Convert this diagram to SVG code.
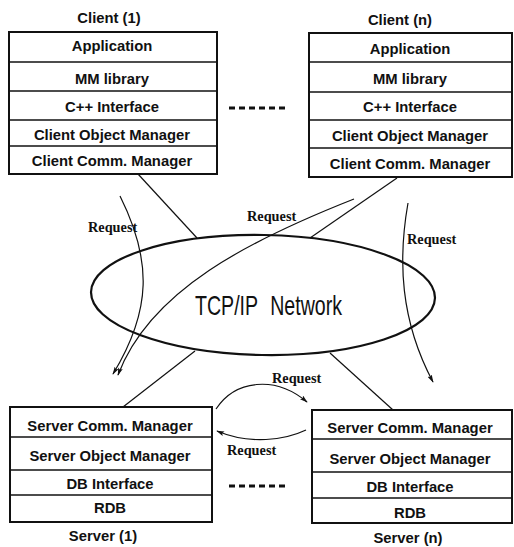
<svg xmlns="http://www.w3.org/2000/svg" width="514" height="547" viewBox="0 0 514 547">
<style>
.box{fill:#fff;stroke:#111;stroke-width:2}
.div{stroke:#111;stroke-width:1.4}
.t{font-family:"Liberation Sans",Arial,sans-serif;font-weight:bold;font-size:14.8px;text-anchor:middle;fill:#111}
.req{font-family:"Liberation Serif","Times New Roman",serif;font-weight:bold;font-size:14.3px;fill:#111}
.ln{stroke:#111;stroke-width:1.2;fill:none}
.arr{stroke:#111;stroke-width:1.2;fill:none;marker-end:url(#ah)}
.dash{stroke:#111;stroke-width:3;stroke-dasharray:6 4}
</style>
<defs>
<marker id="ah" viewBox="0 0 10 6" refX="9" refY="3" markerWidth="8" markerHeight="5" orient="auto" markerUnits="userSpaceOnUse">
<path d="M0,0 L10,3 L0,6 L2,3 z" fill="#111"/>
</marker>
</defs>
<rect width="514" height="547" fill="#fff"/>

<g id="client1">
<text class="t" x="109" y="23">Client (1)</text>
<rect class="box" x="9" y="32" width="208" height="142"/>
<line class="div" x1="9" y1="62" x2="217" y2="62"/>
<line class="div" x1="9" y1="91" x2="217" y2="91"/>
<line class="div" x1="9" y1="120" x2="217" y2="120"/>
<line class="div" x1="9" y1="146" x2="217" y2="146"/>
<text class="t" x="112" y="51">Application</text>
<text class="t" x="112" y="84">MM library</text>
<text class="t" x="112" y="112">C++ Interface</text>
<text class="t" x="112" y="140">Client Object Manager</text>
<text class="t" x="112" y="166">Client Comm. Manager</text>
</g>

<g id="clientn">
<text class="t" x="400" y="25">Client (n)</text>
<rect class="box" x="309" y="33" width="203" height="144"/>
<line class="div" x1="309" y1="62" x2="512" y2="62"/>
<line class="div" x1="309" y1="92" x2="512" y2="92"/>
<line class="div" x1="309" y1="120" x2="512" y2="120"/>
<line class="div" x1="309" y1="148" x2="512" y2="148"/>
<text class="t" x="410" y="54">Application</text>
<text class="t" x="410" y="84">MM library</text>
<text class="t" x="410" y="112">C++ Interface</text>
<text class="t" x="410" y="141">Client Object Manager</text>
<text class="t" x="410" y="169">Client Comm. Manager</text>
</g>

<g id="network">
<ellipse cx="263" cy="295" rx="172" ry="60" transform="rotate(1 263 295)" fill="#fff" stroke="#111" stroke-width="2.2"/>
<text x="195" y="315" font-family="'Liberation Sans',Arial,sans-serif" font-size="28" word-spacing="10" fill="#111" textLength="147" lengthAdjust="spacingAndGlyphs">TCP/IP Network</text>
</g>

<g id="server1">
<rect class="box" x="10" y="407" width="202" height="115"/>
<line class="div" x1="10" y1="437" x2="212" y2="437"/>
<line class="div" x1="10" y1="470" x2="212" y2="470"/>
<line class="div" x1="10" y1="495" x2="212" y2="495"/>
<text class="t" x="110" y="431">Server Comm. Manager</text>
<text class="t" x="110" y="461">Server Object Manager</text>
<text class="t" x="110" y="489">DB Interface</text>
<text class="t" x="110" y="513">RDB</text>
<text class="t" x="103" y="541">Server (1)</text>
</g>

<g id="servern">
<rect class="box" x="312" y="410" width="200" height="113"/>
<line class="div" x1="312" y1="439" x2="512" y2="439"/>
<line class="div" x1="312" y1="472" x2="512" y2="472"/>
<line class="div" x1="312" y1="498" x2="512" y2="498"/>
<text class="t" x="410" y="433">Server Comm. Manager</text>
<text class="t" x="410" y="464">Server Object Manager</text>
<text class="t" x="410" y="492">DB Interface</text>
<text class="t" x="410" y="518">RDB</text>
<text class="t" x="408" y="543">Server (n)</text>
</g>

<g id="connectors">
<line class="ln" x1="138" y1="174" x2="197" y2="238"/>
<line class="ln" x1="397" y1="178" x2="310" y2="238"/>
<line class="ln" x1="195" y1="351" x2="123" y2="407"/>
<line class="ln" x1="330" y1="353" x2="393" y2="410"/>
<line class="dash" x1="229" y1="108" x2="289" y2="108"/>
<line class="dash" x1="229" y1="486" x2="289" y2="486"/>
<path class="arr" d="M120,196 C152,260 152,310 113,374"/>
<path class="arr" d="M354,199 C250,240 150,290 118,375"/>
<path class="arr" d="M408,203 C398,260 400,320 433,382"/>
<path class="arr" d="M216,409 C235,380 275,375 307,402"/>
<path class="arr" d="M306,430 C285,440 250,445 217,431"/>
<text class="req" x="88" y="232">Request</text>
<text class="req" x="247" y="221">Request</text>
<text class="req" x="407" y="244">Request</text>
<text class="req" x="272" y="383">Request</text>
<text class="req" x="227" y="455">Request</text>
</g>
</svg>
